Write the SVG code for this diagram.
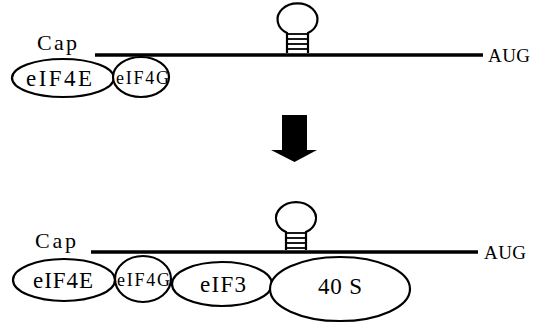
<svg xmlns="http://www.w3.org/2000/svg" width="547" height="325" viewBox="0 0 547 325">
  <style>
    .mrna { stroke: #000; stroke-width: 3.5; fill: none; }
    .prot { fill: #fff; stroke: #000; stroke-width: 2.2; }
    .loop { fill: #fff; stroke: #000; stroke-width: 2.2; }
    .rung { stroke: #000; stroke-width: 1.8; }
    text { font-family: "Liberation Serif", "Times New Roman", serif; fill: #000; }
    .lbl { font-size: 23px; }
    .cap { font-size: 22px; }
    .aug { font-size: 19px; }
    .sm { font-size: 18px; }
  </style>

  <!-- upper panel: mRNA with cap-binding complex -->
  <g id="mrna-top">
    <line class="mrna" x1="95" y1="55" x2="483" y2="55"/>
    <text class="cap" x="37" y="50" textLength="40">Cap</text>
    <text class="aug" x="488" y="62" textLength="42">AUG</text>
  </g>
  <g id="hairpin-top">
    <path class="loop" d="M287,53 L287,33 A20,16 0 1 1 308,33 L308,53"/>
    <line class="rung" x1="287" y1="34" x2="308" y2="34"/>
    <line class="rung" x1="287" y1="39" x2="308" y2="39"/>
    <line class="rung" x1="287" y1="44" x2="308" y2="44"/>
    <line class="rung" x1="287" y1="49" x2="308" y2="49"/>
  </g>
  <g id="eif4e-top">
    <ellipse class="prot" cx="63" cy="78" rx="51" ry="19"/>
    <text class="lbl" x="26" y="86" textLength="66">eIF4E</text>
  </g>
  <g id="eif4g-top">
    <ellipse class="prot" cx="141" cy="77" rx="28" ry="20"/>
    <text class="sm" x="116" y="84" textLength="53">eIF4G</text>
  </g>

  <!-- transition arrow -->
  <g id="connectors">
    <path d="M282,115 L307,115 L307,150 L317,150 L294.5,162 L271,150 L282,150 Z" fill="#000"/>
  </g>

  <!-- lower panel: 43S complex assembled on the cap -->
  <g id="mrna-bottom">
    <line class="mrna" x1="91" y1="252" x2="478" y2="252"/>
    <text class="cap" x="35" y="248" textLength="41">Cap</text>
    <text class="aug" x="484" y="259" textLength="42">AUG</text>
  </g>
  <g id="hairpin-bottom">
    <path class="loop" d="M286,250 L286,232 A20,16 0 1 1 306,232 L306,250"/>
    <line class="rung" x1="286" y1="233" x2="306" y2="233"/>
    <line class="rung" x1="286" y1="238" x2="306" y2="238"/>
    <line class="rung" x1="286" y1="243" x2="306" y2="243"/>
    <line class="rung" x1="286" y1="248" x2="306" y2="248"/>
  </g>
  <g id="eif4e-bottom">
    <ellipse class="prot" cx="64" cy="280" rx="51" ry="21"/>
    <text class="lbl" x="33" y="288" textLength="60">eIF4E</text>
  </g>
  <g id="eif4g-bottom">
    <ellipse class="prot" cx="143" cy="279" rx="28" ry="23"/>
    <text class="sm" x="117" y="286" textLength="53">eIF4G</text>
  </g>
  <g id="eif3">
    <ellipse class="prot" cx="222" cy="284" rx="50" ry="22"/>
    <text class="lbl" x="200" y="292" textLength="46">eIF3</text>
  </g>
  <g id="ribosome-40s">
    <ellipse class="prot" cx="340" cy="289" rx="70" ry="32"/>
    <text class="lbl" x="318" y="294" textLength="44">40 S</text>
  </g>
</svg>
